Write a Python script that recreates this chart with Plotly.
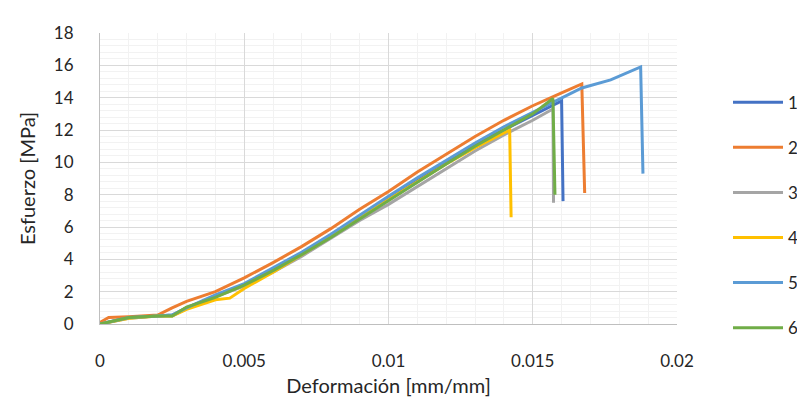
import plotly.graph_objects as go

# ---- data ----
x1 = [0, 0.001, 0.002, 0.0025, 0.003, 0.004, 0.005, 0.006, 0.007, 0.008, 0.009, 0.010, 0.011, 0.012, 0.013, 0.014, 0.015, 0.0160, 0.01605]
y1 = [0, 0.4, 0.5, 0.55, 1.0, 1.75, 2.45, 3.35, 4.35, 5.4, 6.6, 7.75, 8.9, 10.0, 11.1, 12.0, 12.9, 13.8, 7.6]

x2 = [0, 0.0003, 0.001, 0.002, 0.0025, 0.003, 0.004, 0.005, 0.006, 0.007, 0.008, 0.009, 0.010, 0.011, 0.012, 0.013, 0.014, 0.015, 0.016, 0.0167, 0.0168]
y2 = [0.1, 0.4, 0.45, 0.55, 1.0, 1.4, 2.0, 2.85, 3.8, 4.8, 5.9, 7.1, 8.2, 9.4, 10.5, 11.6, 12.6, 13.5, 14.3, 14.85, 8.1]

x3 = [0, 0.001, 0.002, 0.0025, 0.003, 0.004, 0.005, 0.006, 0.007, 0.008, 0.009, 0.010, 0.011, 0.012, 0.013, 0.014, 0.015, 0.0157, 0.01572]
y3 = [0, 0.35, 0.5, 0.5, 0.95, 1.7, 2.35, 3.2, 4.2, 5.3, 6.4, 7.4, 8.5, 9.6, 10.7, 11.7, 12.6, 13.3, 7.5]

x4 = [0, 0.001, 0.002, 0.0025, 0.003, 0.004, 0.0045, 0.005, 0.006, 0.007, 0.008, 0.009, 0.010, 0.011, 0.012, 0.013, 0.0142, 0.01425]
y4 = [0, 0.35, 0.5, 0.5, 0.9, 1.5, 1.6, 2.2, 3.2, 4.3, 5.4, 6.6, 7.7, 8.8, 9.9, 10.9, 12.0, 6.6]

x5 = [0, 0.001, 0.002, 0.0025, 0.003, 0.004, 0.005, 0.006, 0.007, 0.008, 0.009, 0.010, 0.011, 0.012, 0.013, 0.014, 0.015, 0.016, 0.0167, 0.0177, 0.01874, 0.01882]
y5 = [0, 0.4, 0.5, 0.55, 1.0, 1.8, 2.5, 3.45, 4.45, 5.55, 6.75, 7.9, 9.05, 10.15, 11.2, 12.2, 13.1, 13.95, 14.6, 15.1, 15.9, 9.3]

x6 = [0, 0.001, 0.002, 0.0025, 0.003, 0.004, 0.005, 0.006, 0.007, 0.008, 0.009, 0.010, 0.011, 0.012, 0.013, 0.014, 0.015, 0.0157, 0.01577]
y6 = [0, 0.4, 0.5, 0.5, 1.05, 1.65, 2.4, 3.3, 4.3, 5.35, 6.5, 7.65, 8.8, 9.9, 11.0, 12.0, 13.0, 13.95, 8.0]

names = ["1", "2", "3", "4", "5", "6"]
colors = ["#4472C4", "#ED7D31", "#A5A5A5", "#FFC000", "#5B9BD5", "#70AD47"]
xs = [x1, x2, x3, x4, x5, x6]
ys = [y1, y2, y3, y4, y5, y6]

FONT = "Lato, Open Sans, sans-serif"
TXT = "#262626"

fig = go.Figure()
for n, c, x, y in zip(names, colors, xs, ys):
    fig.add_trace(go.Scatter(x=x, y=y, mode="lines", name=n, legendgroup=n,
                             line=dict(color=c, width=3)))

fig.update_layout(
    width=805, height=399,
    margin=dict(l=92, r=136, t=25, b=83, autoexpand=False),
    paper_bgcolor="white", plot_bgcolor="white",
    font=dict(family=FONT, size=17, color=TXT),
    showlegend=True,
    legend=dict(x=1.0884, y=0.374, xanchor="left", yanchor="middle",
                itemwidth=50, tracegroupgap=20, font=dict(size=17, color=TXT),
                bgcolor="rgba(0,0,0,0)"),
    xaxis=dict(range=[0, 0.02], tickvals=[0, 0.005, 0.01, 0.015, 0.02],
               ticktext=["0", "0.005", "0.01", "0.015", "0.02"],
               showgrid=True, gridcolor="#D9D9D9", gridwidth=1,
               minor=dict(dtick=0.001, showgrid=True, gridcolor="#F2F2F2", gridwidth=1),
               zeroline=False, showline=True, linecolor="#BFBFBF", linewidth=1,
               ticks="", ticklabelstandoff=22, automargin=False,
               title=dict(text="Deformación [mm/mm]", font=dict(size=20, color=TXT), standoff=8)),
    yaxis=dict(range=[0, 18], dtick=2,
               showgrid=True, gridcolor="#D9D9D9", gridwidth=1,
               minor=dict(dtick=0.4, showgrid=True, gridcolor="#F2F2F2", gridwidth=1),
               zeroline=False, showline=True, linecolor="#BFBFBF", linewidth=1,
               ticks="", ticklabelstandoff=22, automargin=False,
               title=dict(text="Esfuerzo [MPa]", font=dict(size=20, color=TXT), standoff=12)),
)

fig.write_html("out.html")
